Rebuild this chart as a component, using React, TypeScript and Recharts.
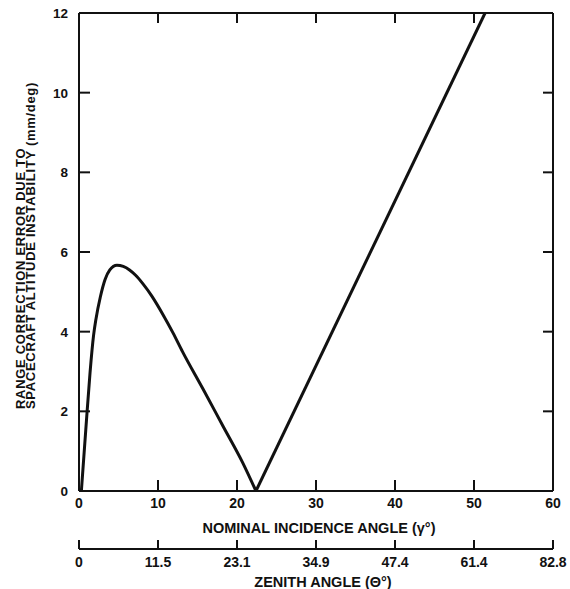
import React from 'react';
import { LineChart, Line, XAxis, YAxis } from 'recharts';

// incidence angle (deg) vs range correction error (mm/deg)
// first branch: the hump from 0 to the zero crossing
const humpGamma = [0.3, 0.86, 1.4, 1.84, 2.15, 2.7, 3.3, 3.9, 4.8, 5.6, 6.4, 7.2, 8.1, 9.2, 10.6, 11.9, 13.1, 15.7, 18.2, 20.7, 22.4];
const humpError = [0, 1.54, 2.98, 3.9, 4.32, 4.87, 5.31, 5.55, 5.67, 5.64, 5.55, 5.41, 5.2, 4.9, 4.44, 3.97, 3.5, 2.56, 1.64, 0.72, 0];
// second branch: straight rise after the zero crossing
const riseGamma = [22.4, 51.4];
const riseError = [0, 12];

const incidenceTicks = [0, 10, 20, 30, 40, 50, 60];
const innerTopTicks = [10, 20, 30, 40, 50];
const zenithLabels = ['0', '11.5', '23.1', '34.9', '47.4', '61.4', '82.8'];
const rangeTicks = [0, 2, 4, 6, 8, 10, 12];
const innerRightTicks = [2, 4, 6, 8, 10];

const humpData = humpGamma.map((g, i) => ({ gamma: g, err: humpError[i] }));
const riseData = riseGamma.map((g, i) => ({ gamma: g, err: riseError[i] }));

const INK = '#111';
const FONT = '"Liberation Sans", Arial, Helvetica, sans-serif';

const BottomTick = (props: any) => {
  const { x, y, payload } = props;
  return (
    <g>
      <line x1={x} y1={y} x2={x} y2={y - 11} stroke={INK} strokeWidth={2} />
      <text x={x} y={y + 17} textAnchor="middle" fontFamily={FONT} fontWeight="bold" fontSize={14} fill={INK}>
        {payload.value}
      </text>
    </g>
  );
};

const ZenithTick = (props: any) => {
  const { x, y, payload } = props;
  const idx = incidenceTicks.indexOf(payload.value);
  return (
    <g>
      <line x1={x} y1={y} x2={x} y2={y - 9} stroke={INK} strokeWidth={2} />
      <text x={x} y={y + 18} textAnchor="middle" fontFamily={FONT} fontWeight="bold" fontSize={14} fill={INK}>
        {zenithLabels[idx]}
      </text>
    </g>
  );
};

const TopTick = (props: any) => {
  const { x, y } = props;
  return <line x1={x} y1={y} x2={x} y2={y + 10} stroke={INK} strokeWidth={2} />;
};

const LeftTick = (props: any) => {
  const { x, y, payload } = props;
  return (
    <g>
      <line x1={x} y1={y} x2={x + 11} y2={y} stroke={INK} strokeWidth={2} />
      <text x={x - 11} y={y} dy="0.36em" textAnchor="end" fontFamily={FONT} fontWeight="bold" fontSize={13.5} fill={INK}>
        {payload.value}
      </text>
    </g>
  );
};

const RightTick = (props: any) => {
  const { x, y } = props;
  return <line x1={x} y1={y} x2={x - 10} y2={y} stroke={INK} strokeWidth={2} />;
};

const XTitle = ({ viewBox, text, dx, dy }: any) => (
  <text
    x={viewBox.x + viewBox.width / 2 + dx}
    y={viewBox.y + dy}
    textAnchor="middle"
    fontFamily={FONT}
    fontWeight="bold"
    fontSize={14.5}
    fill={INK}
  >
    {text}
  </text>
);

const YTitle = ({ viewBox }: any) => {
  const baseY = viewBox.y + 396;
  return (
    <g fontFamily={FONT} fontWeight="bold" fontSize={13} fill={INK} letterSpacing={0.7}>
      <text x={24.5} y={baseY} transform={`rotate(-90 24.5 ${baseY})`} textAnchor="start">
        RANGE CORRECTION ERROR DUE TO
      </text>
      <text x={35} y={baseY} transform={`rotate(-90 35 ${baseY})`} textAnchor="start">
        SPACECRAFT ALTITUDE INSTABILITY (mm/deg)
      </text>
    </g>
  );
};

const axisLine = { stroke: INK, strokeWidth: 2 };

export default function App() {
  return (
    <div style={{ position: 'absolute', left: 0, top: 0, background: '#fff' }}>
      <LineChart width={570} height={589} margin={{ top: 12, right: 16, left: 0, bottom: 0 }}>
        <XAxis
          xAxisId="gamma"
          dataKey="gamma"
          type="number"
          domain={[0, 60]}
          ticks={incidenceTicks}
          allowDataOverflow
          orientation="bottom"
          height={58}
          tickSize={0}
          tickMargin={0}
          tickLine={false}
          axisLine={axisLine}
          tick={<BottomTick />}
          label={<XTitle text="NOMINAL INCIDENCE ANGLE (γ°)" dx={3} dy={42} />}
        />
        <XAxis
          xAxisId="zenith"
          dataKey="gamma"
          type="number"
          domain={[0, 60]}
          ticks={incidenceTicks}
          allowDataOverflow
          orientation="bottom"
          height={40}
          tickSize={0}
          tickMargin={0}
          tickLine={false}
          axisLine={axisLine}
          tick={<ZenithTick />}
          label={<XTitle text="ZENITH ANGLE (Θ°)" dx={7} dy={38} />}
        />
        <XAxis
          xAxisId="top"
          dataKey="gamma"
          type="number"
          domain={[0, 60]}
          ticks={innerTopTicks}
          allowDataOverflow
          orientation="top"
          height={1}
          tickSize={0}
          tickMargin={0}
          tickLine={false}
          axisLine={axisLine}
          tick={<TopTick />}
        />
        <YAxis
          yAxisId="err"
          type="number"
          domain={[0, 12]}
          ticks={rangeTicks}
          allowDataOverflow
          orientation="left"
          width={79}
          tickSize={0}
          tickMargin={0}
          tickLine={false}
          axisLine={axisLine}
          tick={<LeftTick />}
          label={<YTitle />}
        />
        <YAxis
          yAxisId="right"
          type="number"
          domain={[0, 12]}
          ticks={innerRightTicks}
          allowDataOverflow
          orientation="right"
          width={1}
          tickSize={0}
          tickMargin={0}
          tickLine={false}
          axisLine={axisLine}
          tick={<RightTick />}
        />
        <Line
          data={humpData}
          xAxisId="gamma"
          yAxisId="err"
          dataKey="err"
          type="monotone"
          stroke={INK}
          strokeWidth={3}
          dot={false}
          isAnimationActive={false}
        />
        <Line
          data={riseData}
          xAxisId="gamma"
          yAxisId="err"
          dataKey="err"
          type="linear"
          stroke={INK}
          strokeWidth={3}
          dot={false}
          isAnimationActive={false}
        />
      </LineChart>
    </div>
  );
}
